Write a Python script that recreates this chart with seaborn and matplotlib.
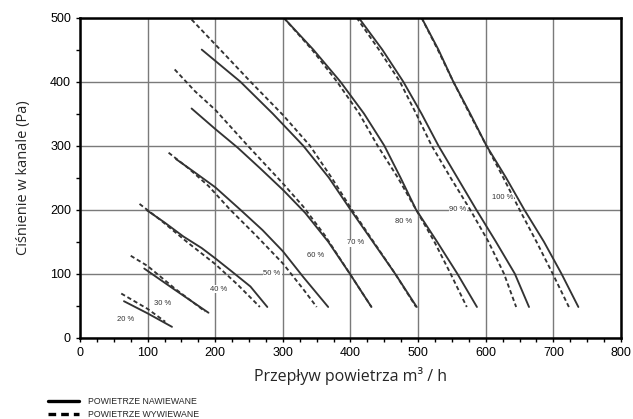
import matplotlib
matplotlib.use("Agg")
import pandas as pd
import matplotlib.pyplot as plt
import seaborn as sns
from matplotlib.ticker import MultipleLocator

# fan speed settings (%)
percent = [20, 30, 40, 50, 60, 70, 80, 90, 100]

# supply air (solid) - flow m3/h and pressure Pa
sup20_q = [65, 100, 136]
sup20_p = [57, 38, 17]
sup30_q = [95, 140, 190]
sup30_p = [108, 75, 39]
sup40_q = [99, 125, 153, 180, 200, 225, 252, 277]
sup40_p = [199, 180, 158, 140, 124, 103, 80, 48]
sup50_q = [142, 170, 200, 237, 270, 300, 330, 367]
sup50_p = [279, 258, 235, 200, 168, 135, 95, 48]
sup60_q = [165, 200, 233, 267, 301, 333, 367, 399, 431]
sup60_p = [358, 326, 297, 264, 230, 195, 150, 100, 48]
sup70_q = [180, 237, 285, 330, 368, 400, 433, 466, 498]
sup70_p = [450, 400, 350, 300, 250, 200, 150, 100, 48]
sup80_q = [301, 345, 385, 420, 450, 474, 497, 528, 558, 587]
sup80_p = [500, 450, 400, 350, 300, 250, 200, 150, 100, 48]
sup90_q = [412, 447, 478, 505, 530, 558, 586, 615, 643, 664]
sup90_p = [500, 450, 400, 350, 300, 250, 200, 150, 100, 48]
sup100_q = [505, 530, 552, 577, 601, 630, 657, 686, 712, 737]
sup100_p = [500, 450, 400, 350, 300, 250, 200, 150, 100, 48]

# exhaust air (dashed)
exh20_q = [61, 100, 126]
exh20_p = [69, 45, 25]
exh30_q = [75, 100, 140, 185]
exh30_p = [128, 112, 77, 41]
exh40_q = [88, 120, 160, 200, 233, 266]
exh40_p = [209, 183, 148, 115, 83, 48]
exh50_q = [131, 160, 190, 222, 260, 300, 330, 350]
exh50_p = [289, 265, 237, 200, 160, 116, 76, 48]
exh60_q = [140, 170, 200, 248, 300, 330, 362, 399, 431]
exh60_p = [419, 385, 356, 300, 241, 205, 160, 100, 48]
exh70_q = [165, 210, 252, 300, 340, 372, 402, 434, 466, 497]
exh70_p = [497, 447, 400, 348, 300, 250, 200, 150, 100, 48]
exh80_q = [301, 343, 380, 413, 440, 470, 497, 524, 548, 572]
exh80_p = [500, 450, 400, 350, 300, 250, 200, 150, 100, 48]
exh90_q = [409, 442, 473, 497, 520, 548, 577, 604, 627, 645]
exh90_p = [500, 450, 400, 350, 300, 250, 200, 150, 100, 48]
exh100_q = [505, 529, 552, 576, 601, 626, 650, 675, 699, 723]
exh100_p = [500, 450, 400, 350, 300, 250, 200, 150, 100, 48]

SUP = "POWIETRZE NAWIEWANE"
EXH = "POWIETRZE WYWIEWANE"

supply = [(sup20_q, sup20_p), (sup30_q, sup30_p), (sup40_q, sup40_p),
          (sup50_q, sup50_p), (sup60_q, sup60_p), (sup70_q, sup70_p),
          (sup80_q, sup80_p), (sup90_q, sup90_p), (sup100_q, sup100_p)]
exhaust = [(exh20_q, exh20_p), (exh30_q, exh30_p), (exh40_q, exh40_p),
           (exh50_q, exh50_p), (exh60_q, exh60_p), (exh70_q, exh70_p),
           (exh80_q, exh80_p), (exh90_q, exh90_p), (exh100_q, exh100_p)]

# long table for seaborn
rows = []
for pc, (q, p) in zip(percent, supply):
    for a, b in zip(q, p):
        rows.append({"Q": a, "P": b, "typ": SUP, "curve": f"s{pc}"})
for pc, (q, p) in zip(percent, exhaust):
    for a, b in zip(q, p):
        rows.append({"Q": a, "P": b, "typ": EXH, "curve": f"e{pc}"})
df = pd.DataFrame(rows)

sns.set_style("white")
plt.rcParams["font.family"] = ["Liberation Sans", "DejaVu Sans"]

fig = plt.figure(figsize=(6.33, 4.19), dpi=100)
ax = fig.add_axes([0.1264, 0.194, 0.8546, 0.764])

sns.lineplot(data=df, x="Q", y="P", style="typ", units="curve",
             estimator=None, sort=False, color="#333333", lw=1.35,
             style_order=[SUP, EXH],
             dashes={SUP: "", EXH: (2.3, 1.5)}, ax=ax)

ax.set_xlim(0, 800)
ax.set_ylim(0, 500)
ax.xaxis.set_major_locator(MultipleLocator(100))
ax.xaxis.set_minor_locator(MultipleLocator(25))
ax.yaxis.set_major_locator(MultipleLocator(100))
ax.yaxis.set_minor_locator(MultipleLocator(50))
ax.grid(True, which="major", color="#7a7a7a", lw=1.0)
ax.set_axisbelow(True)
ax.tick_params(which="both", direction="out", length=3, width=1,
               colors="black", bottom=True, left=True, labelsize=9)
for s in ax.spines.values():
    s.set_color("black")
    s.set_linewidth(1.8)

ax.set_xlabel("Przepływ powietrza m³ / h", fontsize=11.5,
              family=["Open Sans", "DejaVu Sans"], labelpad=6)
ax.set_ylabel("Ciśnienie w kanale (Pa)", fontsize=10.5,
              family=["Open Sans", "DejaVu Sans"], labelpad=14)

# percent labels
label_pos = [(67, 28), (122, 53), (205, 76), (284, 100), (349, 128),
             (407, 148), (478, 181), (559, 200), (625, 219)]
for pc, (lx, ly) in zip(percent, label_pos):
    ax.text(lx, ly, f"{pc} %", fontsize=5.5, color="#333333",
            ha="center", va="center",
            bbox=dict(facecolor="white", edgecolor="none", pad=0.6))

ax.get_legend().remove()
handles, labels = ax.get_legend_handles_labels()
leg = fig.legend(handles, labels, loc="upper left",
                 bbox_to_anchor=(0.0758, 0.052), frameon=False,
                 fontsize=6.3, handlelength=3.5, handletextpad=1.1,
                 labelspacing=0.4, borderpad=0, borderaxespad=0)
for ln in leg.get_lines():
    ln.set_linewidth(2.4)
    ln.set_color("black")

fig.savefig("out.png", dpi=100)
